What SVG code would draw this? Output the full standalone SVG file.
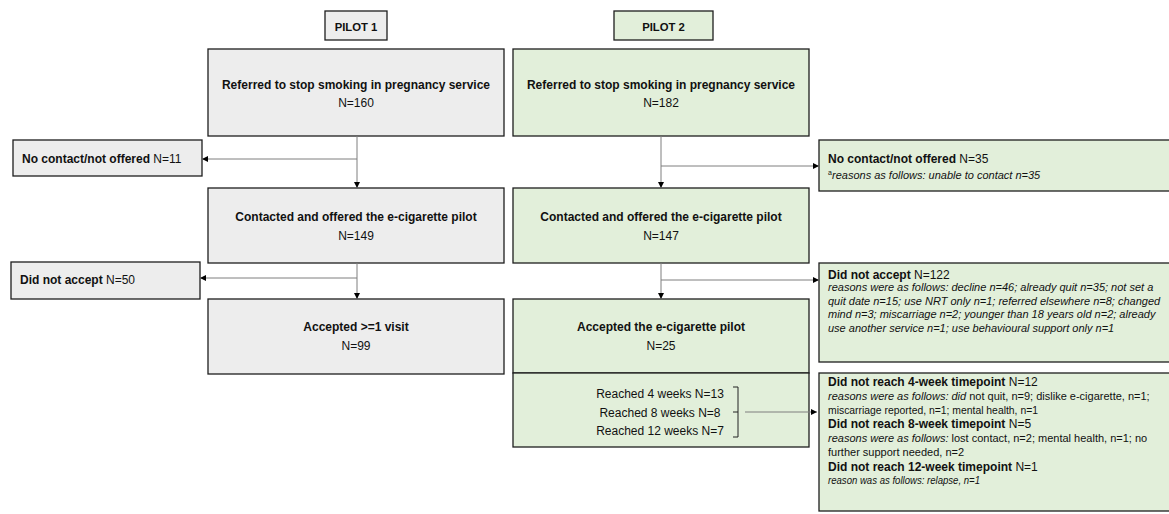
<svg xmlns="http://www.w3.org/2000/svg" width="1169" height="514" viewBox="0 0 1169 514">
<defs>
<marker id="ah" viewBox="0 0 10 10" refX="10" refY="5" markerWidth="6" markerHeight="6" orient="auto" markerUnits="userSpaceOnUse">
<path d="M0,0 L10,5 L0,10 z" fill="#000"/>
</marker>
<style>
.g{fill:#ededed;stroke:#1e1e1e;stroke-width:1.3}
.gr{fill:#e2efda;stroke:#1e1e1e;stroke-width:1.3}
text{font-family:"Liberation Sans",Arial,sans-serif;fill:#111}
.b{font-weight:bold;font-size:12px}
.r{font-size:12px}
.c{text-anchor:middle}
.i{font-style:italic;font-size:11px}
.n{font-style:normal}
.s{font-size:11px}
.ar{stroke:#7f7f7f;stroke-width:1;fill:none;marker-end:url(#ah)}
.bk{stroke:#222;stroke-width:1;fill:none}
</style>
</defs>
<rect width="1169" height="514" fill="#fff"/>

<g id="pilot1-label">
<rect class="g" x="325" y="11" width="62" height="29"/>
<text class="b c" x="356" y="31" style="font-size:11.3px">PILOT 1</text>
</g>
<g id="pilot2-label">
<rect class="gr" x="614" y="11" width="99" height="29"/>
<text class="b c" x="663.5" y="31" style="font-size:11.3px">PILOT 2</text>
</g>

<g id="p1-referred">
<rect class="g" x="208" y="49" width="296" height="87"/>
<text class="b c" x="356" y="89">Referred to stop smoking in pregnancy service</text>
<text class="r c" x="356" y="107">N=160</text>
</g>
<g id="p1-nocontact">
<rect class="g" x="13" y="140" width="189" height="36"/>
<text class="b" x="22" y="163">No contact/not offered<tspan font-weight="normal"> N=11</tspan></text>
</g>
<g id="p1-contacted">
<rect class="g" x="208" y="188" width="296" height="75"/>
<text class="b c" x="356" y="221">Contacted and offered the e-cigarette pilot</text>
<text class="r c" x="356" y="240">N=149</text>
</g>
<g id="p1-notaccept">
<rect class="g" x="11" y="262" width="189" height="37"/>
<text class="b" x="20" y="284">Did not accept<tspan font-weight="normal"> N=50</tspan></text>
</g>
<g id="p1-accepted">
<rect class="g" x="208" y="299" width="296" height="75"/>
<text class="b c" x="356" y="331">Accepted &gt;=1 visit</text>
<text class="r c" x="356" y="350">N=99</text>
</g>

<g id="p2-referred">
<rect class="gr" x="513" y="49" width="296" height="87"/>
<text class="b c" x="661" y="89">Referred to stop smoking in pregnancy service</text>
<text class="r c" x="661" y="107">N=182</text>
</g>
<g id="p2-nocontact">
<rect class="gr" x="819" y="140" width="360" height="51"/>
<text class="b" x="828" y="163">No contact/not offered<tspan font-weight="normal"> N=35</tspan></text>
<text x="828" y="175" style="font-size:7px">a</text>
<text class="i" x="832" y="179">reasons as follows: unable to contact n=35</text>
</g>
<g id="p2-contacted">
<rect class="gr" x="513" y="188" width="296" height="75"/>
<text class="b c" x="661" y="221">Contacted and offered the e-cigarette pilot</text>
<text class="r c" x="661" y="240">N=147</text>
</g>
<g id="p2-notaccept">
<rect class="gr" x="819" y="263" width="360" height="99"/>
<text class="b" x="828" y="279">Did not accept<tspan font-weight="normal"> N=122</tspan></text>
<text class="i" x="828" y="291">reasons were as follows: decline n=46; already quit n=35; not set a</text>
<text class="i" x="828" y="304.5">quit date n=15; use NRT only n=1; referred elsewhere n=8; changed</text>
<text class="i" x="828" y="318">mind n=3; miscarriage n=2; younger than 18 years old n=2; already</text>
<text class="i" x="828" y="331.5">use another service n=1; use behavioural support only n=1</text>
</g>
<g id="p2-accepted">
<rect class="gr" x="513" y="299" width="296" height="74"/>
<text class="b c" x="661" y="331">Accepted the e-cigarette pilot</text>
<text class="r c" x="661" y="350">N=25</text>
</g>
<g id="p2-reached">
<rect class="gr" x="513" y="373" width="296" height="74"/>
<text class="r c" x="660" y="398">Reached 4 weeks N=13</text>
<text class="r c" x="660" y="416.5">Reached 8 weeks N=8</text>
<text class="r c" x="660" y="435">Reached 12 weeks N=7</text>
<path class="bk" d="M733,387 H738 V437 H733 M733,412 H738"/>
</g>
<g id="p2-dropouts">
<rect class="gr" x="819" y="373" width="360" height="138"/>
<text class="b" x="828" y="386">Did not reach 4-week timepoint<tspan font-weight="normal"> N=12</tspan></text>
<text class="i" x="828" y="400">reasons were as follows: did<tspan class="n"> not quit, n=9; dislike e-cigarette, n=1;</tspan></text>
<text class="s" x="828" y="414" textLength="210" lengthAdjust="spacingAndGlyphs">miscarriage reported, n=1; mental health, n=1</text>
<text class="b" x="828" y="428">Did not reach 8-week timepoint<tspan font-weight="normal"> N=5</tspan></text>
<text class="i" x="828" y="442">reasons were as follows: <tspan class="n">lost contact, n=2; mental health, n=1; no</tspan></text>
<text class="s" x="828" y="456">further support needed, n=2</text>
<text class="b" x="828" y="471">Did not reach 12-week timepoint<tspan font-weight="normal"> N=1</tspan></text>
<text class="i" x="828" y="484" textLength="152" lengthAdjust="spacingAndGlyphs">reason was as follows: relapse, n=1</text>
</g>

<g id="connectors">
<path class="ar" d="M357,136 V188"/>
<path class="ar" d="M357,159 H202"/>
<path class="ar" d="M357,263 V299"/>
<path class="ar" d="M357,278 H200"/>
<path class="ar" d="M661,136 V188"/>
<path class="ar" d="M661,166 H819"/>
<path class="ar" d="M661,263 V299"/>
<path class="ar" d="M661,280 H819"/>
<path class="ar" d="M745,412 H817"/>
</g>
</svg>
